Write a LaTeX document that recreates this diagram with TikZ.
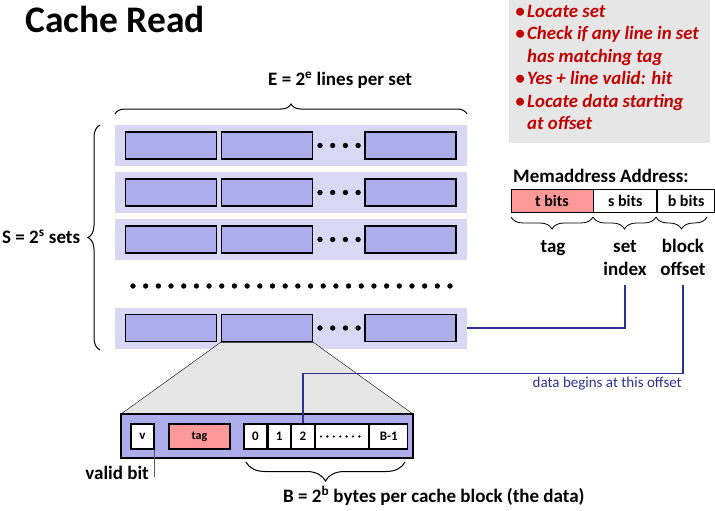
\documentclass[tikz,border=0pt]{standalone}
\usepackage{fontspec}
\setmainfont{Carlito}
\usetikzlibrary{positioning,decorations.pathreplacing}
\definecolor{rowbg}{RGB}{216,216,244}
\definecolor{linefill}{RGB}{173,173,235}
\definecolor{tagred}{RGB}{255,153,153}
\definecolor{noteback}{RGB}{230,230,230}
\definecolor{notered}{RGB}{192,0,0}
\definecolor{wireblue}{RGB}{46,49,146}
\begin{document}
\begin{tikzpicture}[x=1pt,y=-1pt,
	rowset/.style={fill=rowbg, minimum width=352pt, minimum height=41pt, inner sep=0pt},
	cline/.style={draw=black, line width=1.6pt, fill=linefill, minimum width=91pt, minimum height=27pt, inner sep=0pt},
	cell/.style={draw=black, line width=1.2pt, fill=white, minimum height=25pt, inner sep=0pt, font=\fontsize{13}{15}\selectfont\bfseries},
	abox/.style={draw=black, line width=0.8pt, fill=white, minimum height=23pt, inner sep=0pt, font=\fontsize{16}{18}\selectfont\bfseries},
	lbl/.style={inner sep=0pt, font=\fontsize{19}{22}\selectfont\bfseries},
	note/.style={inner sep=0pt, text=notered, font=\fontsize{18.8}{22}\selectfont\bfseries\itshape},
	wire/.style={draw=wireblue, line width=1.3pt},
	brc/.style={decorate, decoration={brace, amplitude=#1}, line width=1pt},
	brc/.default=10pt]
		\useasboundingbox (0,0) rectangle (715,511);
		\node[anchor=base west, inner sep=0pt, font=\fontsize{37.5}{40}\selectfont\bfseries] (title) at (25,33) {Cache Read};
		\filldraw[noteback] (509,0) rectangle (709,142);
		\foreach \i/\y in {1/17.3,2/39.8,3/84.8,4/107.3}
			\node[note, anchor=base east] (bullet\i) at (525,\y) {\textbullet};
		\node[note, anchor=base west] (note1) at (527,17.3) {Locate set};
		\node[note, anchor=base west] (note2) at (527,39.8) {Check if any line in set};
		\node[note, anchor=base west] (note3) at (527,62.3) {has matching tag};
		\node[note, anchor=base west] (note4) at (527,84.8) {Yes + line valid: hit};
		\node[note, anchor=base west] (note5) at (527,107.3) {Locate data starting};
		\node[note, anchor=base west] (note6) at (527,129.8) {at offset};
		\foreach \r/\y in {1/145.5,2/192.5,3/239.5,4/328} {
			\node[rowset] (set\r) at (291,\y) {};
			\node[cline] (line\r a) at (171,\y) {};
			\node[cline] (line\r b) at (267,\y) {};
			\node[cline] (line\r c) at (410.5,\y) {};
			\foreach \d in {0,...,3}
				\filldraw[black] (320+12.7*\d,\y) circle (2.4pt);
		}
		\foreach \d in {0,...,25}
			\filldraw[black] (133+12.68*\d,286) circle (2.4pt);
		\draw[brc] (115,114) -- (467,114);
		\node[lbl, anchor=base west] (elbl) at (268,85) {E = 2\textsuperscript{e} lines per set};
		\draw[brc=12pt] (100,350) -- (100,125);
		\node[lbl, anchor=base west] (slbl) at (2,243) {S = 2\textsuperscript{s} sets};
		\coordinate (blocknw) at (121,414);
		\coordinate (blockne) at (413,414);
		\filldraw[fill=noteback, draw=black, thin] (line4b.south west) -- (line4b.south east) -- (blockne) -- (blocknw) -- cycle;
		\node[draw=black, line width=2.2pt, fill=linefill, minimum width=292pt, minimum height=44pt, inner sep=0pt] (block) at (267,436) {};
		\node[cell, minimum width=23pt] (vbit) at (142.5,436.5) {v};
		\node[cell, fill=tagred, minimum width=61pt, font=\fontsize{12}{14}\selectfont\bfseries] (tagcell) at (199.5,436.5) {tag};
		\node[cell, minimum width=23pt] (byte0) at (255.5,436.5) {0};
		\node[cell, minimum width=22pt, right=0pt of byte0] (byte1) {1};
		\node[cell, minimum width=23pt, right=0pt of byte1] (byte2) {2};
		\node[cell, minimum width=53pt, right=0pt of byte2] (bytedots) {};
		\node[cell, minimum width=38pt, right=0pt of bytedots] (bytelast) {B-1};
		\foreach \d in {0,...,6}
			\filldraw[black] (321+6.4*\d,436.5) circle (0.9pt);
		\draw[gray!70!black, thin] (vbit.south east) -- ++(0,27);
		\node[lbl, anchor=base east] (validlbl) at (149,479) {valid bit};
		\draw[brc=19pt] (405,462) -- (246,462);
		\node[lbl, anchor=base west] (blbl) at (283,502) {B = 2\textsuperscript{b} bytes per cache block (the data)};
		\node[lbl, anchor=base west] (addrlbl) at (513,182) {Memaddress Address:};
		\node[abox, fill=tagred, minimum width=82pt] (tbits) at (552,200.5) {t bits};
		\node[abox, minimum width=63pt, right=0pt of tbits] (sbits) {s bits};
		\node[abox, minimum width=57pt, right=0pt of sbits] (bbits) {b bits};
		\draw[brc=12pt, line width=0.8pt] (593,217) -- (511,217);
		\draw[brc=12pt, line width=0.8pt] (656,217) -- (593,217);
		\draw[brc=12pt, line width=0.8pt] (707,217) -- (656,217);
		\node[lbl, anchor=base] (taglbl) at (553,252) {tag};
		\node[lbl, anchor=base] (setlbl) at (625,252) {set};
		\node[lbl, anchor=base] (idxlbl) at (625,275) {index};
		\node[lbl, anchor=base] (blocklbl) at (683,252) {block};
		\node[lbl, anchor=base] (offlbl) at (683,275) {offset};
		\draw[wire] (set4.east) -| ([yshift=-10pt]idxlbl.south);
		\draw[wire] (byte2.north) -- ++(0,-50) -| ([yshift=-10pt]offlbl.south);
		\node[anchor=base east, inner sep=0pt, text=wireblue, font=\fontsize{15}{17}\selectfont] (datalbl) at (682,387) {data begins at this offset};
\end{tikzpicture}
\end{document}
